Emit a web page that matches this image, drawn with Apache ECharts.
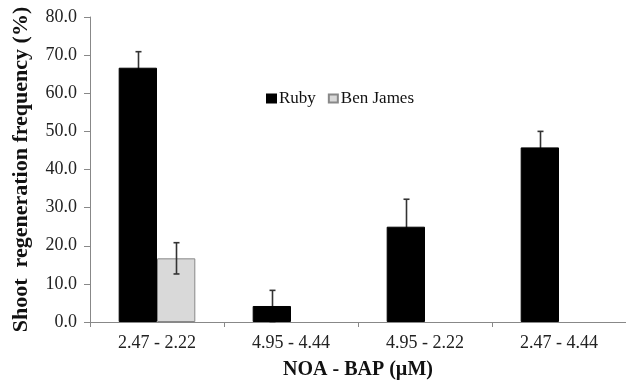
<!DOCTYPE html>
<html><head><meta charset="utf-8">
<script src="https://cdn.jsdelivr.net/npm/echarts@6/dist/echarts.min.js"></script>
<style>html,body{margin:0;padding:0;background:#fff}#c{width:626px;height:381px}</style>
</head><body><div id="c"></div>
<script>
var categories = ['2.47 - 2.22', '4.95 - 4.44', '4.95 - 2.22', '2.47 - 4.44'];
var rubyValues = [66.7, 4.2, 25.0, 45.8];
var rubyErrors = [4.2, 4.1, 7.2, 4.2];
var benValues = [16.7, null, null, null];
var benErrors = [4.1, null, null, null];
var yTicks = [0, 10, 20, 30, 40, 50, 60, 70, 80];

var BAR_FRAC = 0.286;
function errData(vals, errs, offset) {
  var out = [];
  for (var i = 0; i < vals.length; i++) {
    if (vals[i] != null) out.push([i, vals[i] - errs[i], vals[i] + errs[i], offset]);
  }
  return out;
}
function renderErr(params, api) {
  var band = api.size([1, 0])[0];
  var dx = api.value(3) * band * BAR_FRAC / 2;
  var lo = api.coord([api.value(0), api.value(1)]);
  var hi = api.coord([api.value(0), api.value(2)]);
  var x = Math.round(lo[0] + dx) + 0.5;
  var st = {stroke: '#333', lineWidth: 1.6};
  return {type: 'group', children: [
    {type: 'line', shape: {x1: x, y1: lo[1], x2: x, y2: hi[1]}, style: st},
    {type: 'line', shape: {x1: x - 3, y1: hi[1], x2: x + 3, y2: hi[1]}, style: st},
    {type: 'line', shape: {x1: x - 3, y1: lo[1], x2: x + 3, y2: lo[1]}, style: st}
  ]};
}
var chart = echarts.init(document.getElementById('c'));
var serif = '"Liberation Serif", "DejaVu Serif", serif';
chart.setOption({
  animation: false,
  textStyle: {fontFamily: serif},
  grid: {left: 90, right: 0, top: 17, bottom: 59, outerBoundsMode: 'none', containLabel: false},
  legend: {
    left: 266, top: 90, padding: 0, itemWidth: 9, itemHeight: 8, itemGap: 12,
    textStyle: {fontFamily: serif, fontSize: 17, color: '#111', padding: [0, 0, 0, -2]},
    data: [{name: 'Ruby', icon: 'rect'}, {name: 'Ben James', icon: 'rect'}]
  },
  xAxis: {
    type: 'category', data: categories,
    name: 'NOA - BAP (µM)', nameLocation: 'middle', nameGap: 38,
    nameTextStyle: {fontFamily: serif, fontSize: 20, fontWeight: 'bold', color: '#111'},
    axisLine: {lineStyle: {color: '#888', width: 1}},
    axisTick: {show: true, length: 5, lineStyle: {color: '#888'}},
    axisLabel: {fontFamily: serif, fontSize: 18, color: '#222', margin: 12}
  },
  yAxis: {
    type: 'value', min: yTicks[0], max: yTicks[yTicks.length - 1], interval: 10,
    name: 'Shoot  regeneration frequency (%)', nameLocation: 'middle', nameGap: 58,
    nameTextStyle: {fontFamily: serif, fontSize: 22, fontWeight: 'bold', color: '#111'},
    axisLine: {show: true, lineStyle: {color: '#888', width: 1}},
    axisTick: {show: true, length: 6, lineStyle: {color: '#888'}},
    splitLine: {show: false},
    axisLabel: {fontFamily: serif, fontSize: 18, color: '#222', margin: 13,
      formatter: function (v) { return v.toFixed(1); }}
  },
  series: [
    {name: 'Ruby', type: 'bar', data: rubyValues, barWidth: (BAR_FRAC * 100) + '%', barGap: '0%', z: 3,
      itemStyle: {color: '#000', borderColor: '#000', borderWidth: 1}},
    {name: 'Ben James', type: 'bar', data: benValues, barWidth: (BAR_FRAC * 100) + '%', barGap: '0%', z: 3,
      itemStyle: {color: '#d9d9d9', borderColor: '#888', borderWidth: 1}},
    {type: 'custom', renderItem: renderErr, data: errData(rubyValues, rubyErrors, -1), z: 1, silent: true},
    {type: 'custom', renderItem: renderErr, data: errData(benValues, benErrors, 1), z: 5, silent: true}
  ]
});
</script></body></html>
